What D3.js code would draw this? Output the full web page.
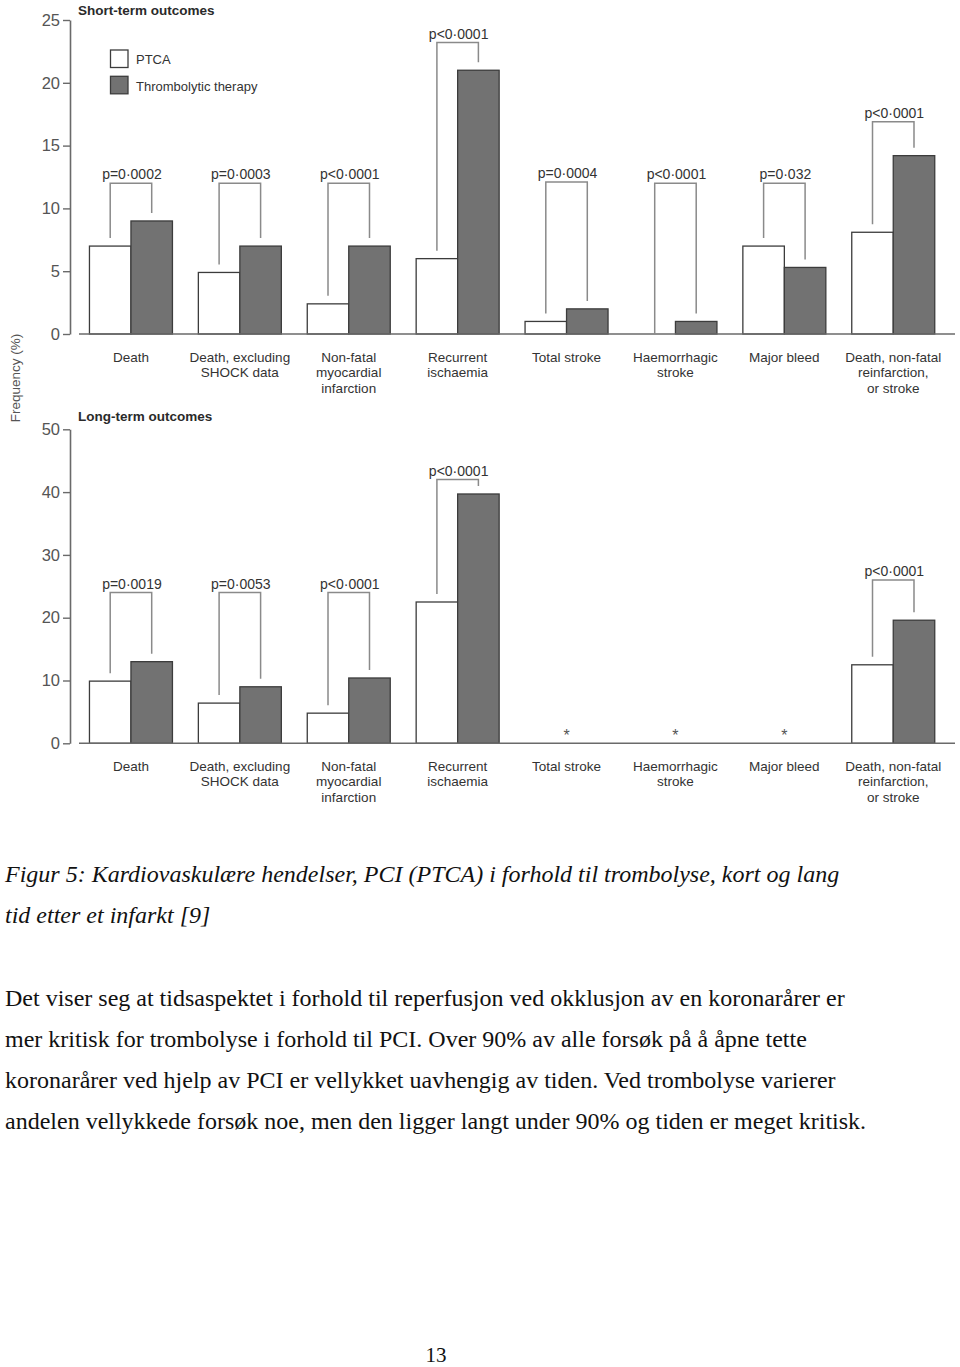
<!DOCTYPE html>
<html>
<head>
<meta charset="utf-8">
<script src="https://cdn.jsdelivr.net/npm/d3@7"></script>
<style>
  html, body { margin: 0; padding: 0; background: #fff; }
  svg { display: block; }
</style>
</head>
<body>
<svg id="chart" width="960" height="1367"></svg>
<script>
// ---------- DATA ----------
const categories = [
  ["Death"],
  ["Death, excluding", "SHOCK data"],
  ["Non-fatal", "myocardial", "infarction"],
  ["Recurrent", "ischaemia"],
  ["Total stroke"],
  ["Haemorrhagic", "stroke"],
  ["Major bleed"],
  ["Death, non-fatal", "reinfarction,", "or stroke"]
];
const seriesNames = ["PTCA", "Thrombolytic therapy"];

const shortPTCA     = [7.0, 4.9, 2.4, 6.0, 1.0, 0.0, 7.0, 8.1];
const shortThrombo  = [9.0, 7.0, 7.0, 21.0, 2.0, 1.0, 5.3, 14.2];
const shortPLabels  = ["p=0·0002", "p=0·0003", "p<0·0001", "p<0·0001", "p=0·0004", "p<0·0001", "p=0·032", "p<0·0001"];
const shortPLevels  = [12, 12, 12, 23.2, 12.1, 12, 12, 16.9];
const shortTicks    = [0, 5, 10, 15, 20, 25];

const longPTCA      = [9.9, 6.4, 4.8, 22.5, null, null, null, 12.5];
const longThrombo   = [13.0, 9.0, 10.4, 39.7, null, null, null, 19.6];
const longPLabels   = ["p=0·0019", "p=0·0053", "p<0·0001", "p<0·0001", null, null, null, "p<0·0001"];
const longPLevels   = [24, 24, 24, 42, null, null, null, 26];
const longTicks     = [0, 10, 20, 30, 40, 50];

const captionLines = [
  "Figur 5: Kardiovaskulære hendelser, PCI (PTCA) i forhold til trombolyse, kort og lang",
  "tid etter et infarkt [9]"
];
const bodyLines = [
  "Det viser seg at tidsaspektet i forhold til reperfusjon ved okklusjon av en koronarårer er",
  "mer kritisk for trombolyse i forhold til PCI. Over 90% av alle forsøk på å åpne tette",
  "koronarårer ved hjelp av PCI er vellykket uavhengig av tiden. Ved trombolyse varierer",
  "andelen vellykkede forsøk noe, men den ligger langt under 90% og tiden er meget kritisk."
];
const pageNumber = "13";

// ---------- STYLE ----------
const sansFont = "'Liberation Sans', Arial, sans-serif";
const serifFont = "'Liberation Serif', 'Times New Roman', serif";
const colFill = ["#ffffff", "#727272"];
const barStroke = "#3c3c3c";
const axisColor = "#6a6a6a";
const bracketColor = "#8a8a8a";
const textColor = "#333333";

const svg = d3.select("#chart");

// shared x scales
const x0 = d3.scaleBand()
  .domain(d3.range(categories.length))
  .range([76.5, 947.7])
  .paddingInner(0.238)
  .paddingOuter(0.119);
const x1 = d3.scaleBand()
  .domain(seriesNames)
  .range([0, x0.bandwidth()])
  .padding(0);

function drawPanel(cfg) {
  const g = svg.append("g");
  const y = d3.scaleLinear().domain(cfg.domain).range(cfg.range);

  // title
  g.append("text")
    .attr("x", 78).attr("y", cfg.titleY)
    .attr("font-family", sansFont).attr("font-weight", "bold")
    .attr("font-size", 13.5).attr("fill", "#2a2a2a")
    .text(cfg.title);

  // y axis
  const ax = g.append("g")
    .attr("transform", "translate(70,0)")
    .call(d3.axisLeft(y).tickValues(cfg.ticks).tickSize(7).tickSizeOuter(0).tickPadding(3));
  ax.select(".domain").attr("stroke", axisColor).attr("stroke-width", 1.6);
  ax.selectAll(".tick line").attr("stroke", axisColor).attr("stroke-width", 1.4);
  ax.selectAll(".tick text")
    .attr("font-family", sansFont).attr("font-size", 16.5)
    .attr("fill", "#555");

  // bars
  const rows = categories.map((c, i) => ({
    i,
    vals: [cfg.ptca[i], cfg.thrombo[i]]
  }));
  const groups = g.selectAll("g.grp").data(rows).join("g")
    .attr("class", "grp")
    .attr("transform", d => `translate(${x0(d.i)},0)`);
  groups.selectAll("rect")
    .data(d => d.vals.map((v, k) => ({ v, k })).filter(e => e.v !== null && e.v > 0))
    .join("rect")
    .attr("x", e => x1(seriesNames[e.k]))
    .attr("y", e => y(e.v))
    .attr("width", x1.bandwidth())
    .attr("height", e => y(0) - y(e.v))
    .attr("fill", e => colFill[e.k])
    .attr("stroke", barStroke)
    .attr("stroke-width", 1.3);

  // baseline
  g.append("line")
    .attr("x1", 79).attr("x2", 955)
    .attr("y1", y(0)).attr("y2", y(0))
    .attr("stroke", axisColor).attr("stroke-width", 1.6);

  // brackets
  rows.forEach(d => {
    const lvl = cfg.levels[d.i];
    if (lvl === null) return;
    const cx = [0, 1].map(k => x0(d.i) + x1(seriesNames[k]) + x1.bandwidth() / 2);
    const legEnd = d.vals.map(v => v > 0 ? y(v) - 8 : y(0));
    const top = y(lvl);
    g.append("path")
      .attr("d", `M${cx[0]},${legEnd[0]}V${top}H${cx[1]}V${legEnd[1]}`)
      .attr("fill", "none").attr("stroke", bracketColor).attr("stroke-width", 1.5);
    g.append("text")
      .attr("x", (cx[0] + cx[1]) / 2 + 1).attr("y", top - 4)
      .attr("text-anchor", "middle")
      .attr("font-family", sansFont).attr("font-size", 14)
      .attr("fill", textColor)
      .text(cfg.plabels[d.i]);
  });

  // asterisks for missing data
  rows.forEach(d => {
    if (d.vals[0] === null && d.vals[1] === null) {
      g.append("text")
        .attr("x", x0(d.i) + x0.bandwidth() / 2).attr("y", y(0) - 2)
        .attr("text-anchor", "middle")
        .attr("font-family", sansFont).attr("font-size", 16)
        .attr("fill", "#555")
        .text("*");
    }
  });

  // category labels
  const lab = g.selectAll("text.cat").data(categories).join("text")
    .attr("class", "cat")
    .attr("text-anchor", "middle")
    .attr("font-family", sansFont).attr("font-size", 13.5)
    .attr("fill", textColor)
    .attr("transform", (c, i) => `translate(${x0(i) + x0.bandwidth() / 2},${y(0) + 27.5})`);
  lab.selectAll("tspan").data(c => c).join("tspan")
    .attr("x", 0).attr("dy", (t, j) => j === 0 ? 0 : 15.5)
    .text(t => t);

  return y;
}

drawPanel({
  title: "Short-term outcomes", titleY: 15,
  domain: [0, 25], range: [334, 20], ticks: shortTicks,
  ptca: shortPTCA, thrombo: shortThrombo,
  levels: shortPLevels, plabels: shortPLabels
});
drawPanel({
  title: "Long-term outcomes", titleY: 420.5,
  domain: [0, 50], range: [743.3, 429.3], ticks: longTicks,
  ptca: longPTCA, thrombo: longThrombo,
  levels: longPLevels, plabels: longPLabels
});

// legend
const leg = svg.append("g");
seriesNames.forEach((s, k) => {
  leg.append("rect")
    .attr("x", 110.5).attr("y", 50 + k * 26.3)
    .attr("width", 17.5).attr("height", 17.5)
    .attr("fill", colFill[k]).attr("stroke", barStroke).attr("stroke-width", 1.3);
  leg.append("text")
    .attr("x", 136).attr("y", 63.5 + k * 27.5)
    .attr("font-family", sansFont).attr("font-size", 13)
    .attr("fill", textColor)
    .text(s);
});

// y axis title
svg.append("text")
  .attr("transform", "translate(20,378) rotate(-90)")
  .attr("text-anchor", "middle")
  .attr("font-family", sansFont).attr("font-size", 13.5)
  .attr("fill", "#555")
  .text("Frequency (%)");

// caption and body text
const cap = svg.append("g");
captionLines.forEach((t, i) => {
  cap.append("text")
    .attr("x", 5).attr("y", 882 + i * 41)
    .attr("font-family", serifFont).attr("font-style", "italic")
    .attr("font-size", 24).attr("fill", "#111")
    .text(t);
});
bodyLines.forEach((t, i) => {
  cap.append("text")
    .attr("x", 5).attr("y", 1006 + i * 41)
    .attr("font-family", serifFont)
    .attr("font-size", 24).attr("fill", "#111")
    .text(t);
});
svg.append("text")
  .attr("x", 436).attr("y", 1362)
  .attr("text-anchor", "middle")
  .attr("font-family", serifFont)
  .attr("font-size", 21).attr("fill", "#111")
  .text(pageNumber);
</script>
</body>
</html>
